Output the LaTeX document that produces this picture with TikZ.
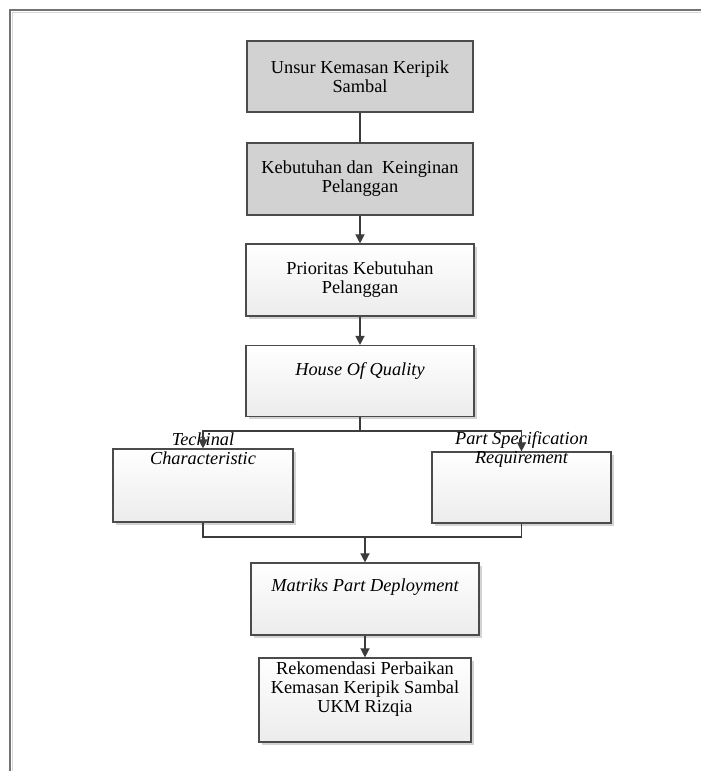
\documentclass[tikz,border=0pt]{standalone}
\usepackage{fontspec}
\setmainfont{Liberation Serif}
\usetikzlibrary{arrows.meta,shadows}

\definecolor{boxgray}{RGB}{210,210,210}
\definecolor{boxline}{RGB}{75,75,75}
\definecolor{linkgray}{RGB}{60,60,60}
\newcommand{\boxfont}{\fontsize{11}{11.4}\selectfont}

\begin{document}
\begin{tikzpicture}[x=0.6pt,y=-0.6pt,
		box/.style={draw=boxline, line width=0.7pt, align=center, font=\boxfont},
		graybox/.style={box, fill=boxgray},
		shadebox/.style={box, top color=white, bottom color=gray!15,
			drop shadow={shadow xshift=1.6pt, shadow yshift=-1.6pt, opacity=0.35}},
		boxtext/.style={align=center, font=\boxfont},
		link/.style={draw=linkgray, line width=0.8pt},
		linkarrow/.style={link, -{Triangle[length=5.5pt,width=5.5pt]}}]
		\useasboundingbox (0,0) rectangle (701,771);
		% page frame
		\draw[gray!90!black, line width=0.9pt] (10,771) -- (10,10) -- (701,10);
		\draw[gray!30, line width=0.6pt] (12.5,771) -- (12.5,12.5) -- (701,12.5);

		\path	(360,76.5) node[graybox, minimum width=135.6pt, minimum height=42.6pt] (unsur) {Unsur Kemasan Keripik\\Sambal}
			(360,179) node[graybox, minimum width=135.6pt, minimum height=43.2pt] (kebutuhan) {Kebutuhan dan\ \ Keinginan\\Pelanggan}
			(360,280) node[shadebox, minimum width=136.8pt, minimum height=43.2pt] (prioritas) {Prioritas Kebutuhan\\Pelanggan}
			(360,381) node[shadebox, minimum width=136.8pt, minimum height=42.6pt] (hoq) {}
			(203,485.5) node[shadebox, minimum width=108pt, minimum height=43.8pt] (techinal) {}
			(521.5,487.5) node[shadebox, minimum width=107.4pt, minimum height=42.6pt] (partspec) {}
			(365,599) node[shadebox, minimum width=136.8pt, minimum height=43.2pt] (matriks) {}
			(365,700) node[shadebox, minimum width=127.2pt, minimum height=50.4pt] (rekomendasi) {};

		\node[boxtext, font=\boxfont\itshape] (hoqtext) at (360,371) {House Of Quality};
		\node[boxtext, font=\boxfont\itshape] (techtext) at (203,449) {Techinal\\Characteristic};
		\node[boxtext, font=\boxfont\itshape] (parttext) at (521.5,449.5) {Part Specification\\Requirement};
		\node[boxtext, font=\boxfont\itshape] (matrikstext) at (365,587) {Matriks Part Deployment};
		\node[boxtext] (rekomtext) at (365,689) {Rekomendasi Perbaikan\\Kemasan Keripik Sambal\\UKM Rizqia};

		\coordinate (split) at (360,431);
		\coordinate (join) at (365,537);
		\draw[link] (unsur) -- (kebutuhan);
		\draw[linkarrow] (kebutuhan) -- (prioritas);
		\draw[linkarrow] (prioritas) -- (hoq);
		\draw[link] (hoq) -- (split);
		\draw[linkarrow] (split) -| (techinal.north);
		\draw[linkarrow] (split) -| (partspec.north);
		\draw[link] (techinal.south) |- (join);
		\draw[link] (partspec.south) |- (join);
		\draw[linkarrow] (join) -- (matriks);
		\draw[linkarrow] (matriks) -- (rekomendasi);
	\end{tikzpicture}
\end{document}
